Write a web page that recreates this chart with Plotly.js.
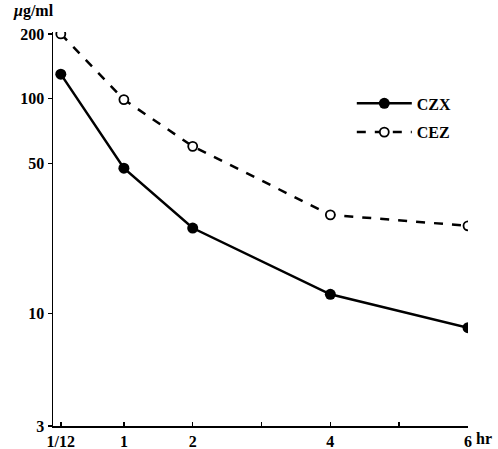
<!DOCTYPE html>
<html><head><meta charset="utf-8">
<script src="https://cdn.plot.ly/plotly-3.0.1.min.js"></script>
<style>html,body{margin:0;padding:0;background:#fff}</style>
</head><body><div id="chart" style="width:498px;height:449px"></div>
<script>
const hours = [1/12, 1, 2, 4, 6];
const czx = [130, 47.5, 25, 12.3, 8.6];
const cez = [200, 99, 60, 28.8, 25.6];
const xTickVals = [1/12, 1, 2, 3, 4, 5, 6];
const xTickText = ['1/12', '1', '2', '', '4', '', '6'];
const yTickVals = [3, 10, 50, 100, 200];
const yTickText = ['3', '10', '50', '100', '200'];

const font = {family: 'Liberation Serif, Times New Roman, serif', size: 16, color: '#000', weight: 'bold'};

const traces = [
  {x: hours, y: czx, name: 'CZX', mode: 'lines+markers', type: 'scatter', legendgroup: 'a',
   line: {color: '#000', width: 2.5},
   marker: {color: '#000', size: 11, symbol: 'circle'}},
  {x: hours, y: cez, name: 'CEZ', mode: 'lines+markers', type: 'scatter', legendgroup: 'b',
   line: {color: '#000', width: 2.5, dash: 'dash'},
   marker: {color: '#fff', size: 9, symbol: 'circle', line: {color: '#000', width: 1.8}}}
];

const layout = {
  width: 498, height: 449,
  margin: {l: 53, r: 30, t: 32, b: 23, pad: 0},
  paper_bgcolor: '#fff', plot_bgcolor: '#fff',
  font: font,
  showlegend: true,
  legend: {x: 0.72, y: 0.862, xanchor: 'left', yanchor: 'top', bgcolor: 'rgba(0,0,0,0)',
           font: font, itemwidth: 55, tracegroupgap: 5},
  xaxis: {type: 'linear', range: [-0.03, 6.0], showgrid: false, zeroline: false,
          showline: true, linecolor: '#000', linewidth: 1.5,
          tickmode: 'array', tickvals: xTickVals, ticktext: xTickText,
          ticks: 'inside', ticklen: 4, tickwidth: 1.5, tickcolor: '#000',
          tickfont: font},
  yaxis: {type: 'log', range: [Math.log10(3), 2.31], showgrid: false, zeroline: false,
          showline: true, linecolor: '#000', linewidth: 1.5,
          tickmode: 'array', tickvals: yTickVals, ticktext: yTickText,
          ticks: 'outside', ticklen: 4, tickwidth: 1.5, tickcolor: '#000',
          tickfont: font},
  annotations: [
    {xref: 'paper', yref: 'paper', x: 1.0, y: 0, xanchor: 'left', yanchor: 'top',
     xshift: 6, yshift: -2, text: 'hr', showarrow: false, font: font},
    {xref: 'paper', yref: 'paper', x: 0, y: 1, xanchor: 'right', yanchor: 'bottom',
     xshift: 3, yshift: 10, text: '<i>μ</i>g/ml', showarrow: false, font: font}
  ]
};

Plotly.newPlot('chart', traces, layout, {displayModeBar: false, staticPlot: true});
</script></body></html>
